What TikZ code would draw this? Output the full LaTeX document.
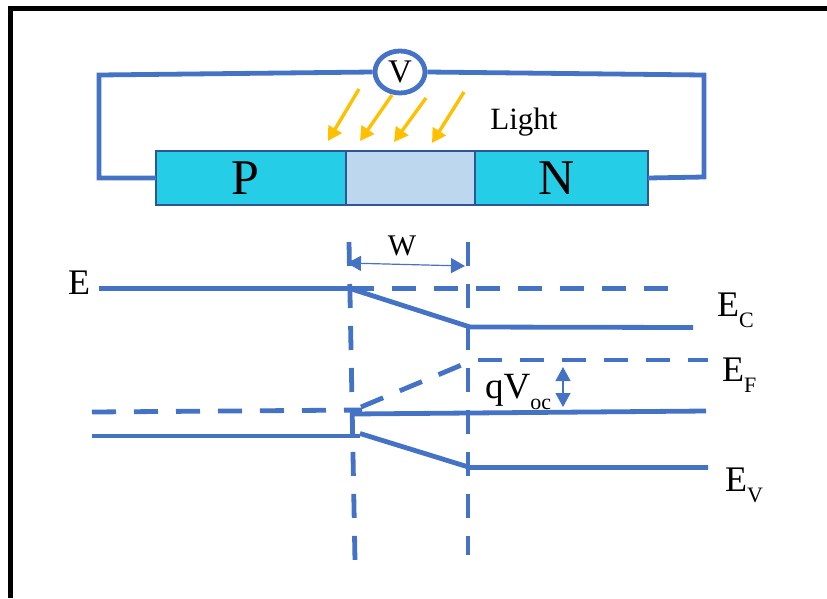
\documentclass[tikz,border=0pt]{standalone}
\usepackage{fontspec}
\setmainfont{Liberation Serif}
\usetikzlibrary{positioning}
\usetikzlibrary{shapes.geometric, arrows.meta}
\definecolor{bandblue}{HTML}{4472C4}
\definecolor{boxedge}{HTML}{2F5597}
\definecolor{dopedcyan}{HTML}{25CDE6}
\definecolor{depleted}{HTML}{BDD7EE}
\definecolor{lightray}{HTML}{FFC000}
\tikzstyle{doped} = [rectangle, minimum height=54pt, inner sep=0pt, outer sep=0pt, text centered, draw=boxedge, line width=2.2pt, fill=dopedcyan, font=\fontsize{50}{50}\selectfont]
\tikzstyle{wire} = [bandblue, line width=4.8pt, line join=miter]
\tikzstyle{gap} = [wire, dash pattern=on 24pt off 18pt]
\tikzstyle{ray} = [lightray, line width=3.4pt, -{Triangle[width=15pt,length=14pt]}]
\tikzstyle{span} = [bandblue, line width=1.2pt, {Triangle[width=15pt,length=14pt]}-{Triangle[width=15pt,length=14pt]}]
\tikzstyle{level} = [inner sep=0pt, font=\fontsize{36}{36}\selectfont]
\newcommand{\lowered}[1]{\raisebox{-0.32em}{\fontsize{22}{22}\selectfont #1}}
\begin{document}
\begin{tikzpicture}[x=1pt,y=-1pt,node distance=0pt]
        \useasboundingbox (0,0) rectangle (827,598);

        % Outer frame
        \draw[black, line width=5.5pt] (827,8.5) -- (10.5,8.5) -- (10.5,598);

        % Device
        \node[doped, minimum width=190pt] (p) at (251,178) {P\kern12pt};
        \node[doped, minimum width=129pt, fill=depleted, right= of p] (junction) {};
        \node[doped, minimum width=173pt, right= of junction] (n) {N\kern10pt};

        % Voltmeter and circuit
        \node[ellipse, draw=bandblue, line width=4.8pt, fill=white, minimum width=50pt, minimum height=42pt, inner sep=0pt, font=\fontsize{33}{33}\selectfont] (volt) at (400,72) {V};
        \coordinate (wireTL) at (99,75);
        \coordinate (wireBL) at (99,178);
        \coordinate (wireTR) at (704,75);
        \coordinate (wireBR) at (704,177);
        \draw[wire] (volt.west) -- (wireTL) -- (wireBL) -- (p.west);
        \draw[wire] (volt.east) -- (wireTR) -- (wireBR) -- (n.east);

        % Light rays
        \foreach \name/\xa/\ya/\xb/\yb in {a/359/89/328/141, b/392/95/360/141, c/426/98/394/142, d/464/92/432/143} {
            \coordinate (ray\name s) at (\xa,\ya);
            \coordinate (ray\name e) at (\xb,\yb);
            \draw[ray] (ray\name s) -- (ray\name e);
        }
        \node[inner sep=0pt, font=\fontsize{31}{31}\selectfont] (light) at (524,122) {Light};

        % Junction edges
        \coordinate (edgeLt) at (349,242);
        \coordinate (edgeLb) at (355,561);
        \coordinate (edgeRt) at (468,242);
        \coordinate (edgeRb) at (468,555);
        \draw[gap] (edgeLt) -- (edgeLb);
        \draw[gap] (edgeRt) -- (edgeRb);

        % Width marker
        \coordinate (widthL) at (347,263);
        \coordinate (widthR) at (465,266);
        \draw[span] (widthL) -- (widthR);
        \node[inner sep=0pt, font=\fontsize{30}{30}\selectfont] (width) at (402,246) {W};

        % Conduction band
        \coordinate (ecA) at (99,288.5);
        \coordinate (ecB) at (350,288.5);
        \coordinate (ecC) at (470,327);
        \coordinate (ecD) at (693,327.5);
        \coordinate (ecE) at (672,288.5);
        \draw[wire] (ecA) -- (ecB) -- (ecC) -- (ecD);
        \draw[gap] (ecB) -- (ecE);

        % Fermi levels
        \coordinate (efA) at (92,412);
        \coordinate (efB) at (362,410);
        \coordinate (efC) at (361,407);
        \coordinate (efD) at (464,364);
        \coordinate (efE) at (478,360);
        \coordinate (efF) at (708,360);
        \draw[gap] (efA) -- (efB);
        \draw[gap] (efC) -- (efD);
        \draw[gap] (efE) -- (efF);
        \coordinate (efnA) at (352,414);
        \coordinate (efnB) at (706,411);
        \draw[wire] (efnA) -- (efnB);

        % Valence band
        \coordinate (evA) at (92,436);
        \coordinate (evB) at (360,436);
        \coordinate (evC) at (360,433.5);
        \coordinate (evD) at (470,467.5);
        \coordinate (evE) at (708,467.5);
        \draw[wire] (evA) -- (evB);
        \draw[wire] (evC) -- (evD) -- (evE);

        % Open circuit voltage
        \coordinate (vocT) at (563,367);
        \coordinate (vocB) at (563,407);
        \draw[span] (vocT) -- (vocB);

        % Labels
        \node[level] (e) at (79,283) {E};
        \node[level, anchor=base west] (ec) at (717,316) {E\lowered{C}};
        \node[level, anchor=base west] (ef) at (722,381) {E\lowered{F}};
        \node[level, anchor=base west] (ev) at (725,491) {E\lowered{V}};
        \node[level, font=\fontsize{37}{37}\selectfont, anchor=base west] (qvoc) at (485,398) {qV\lowered{oc}};

    \end{tikzpicture}
\end{document}
